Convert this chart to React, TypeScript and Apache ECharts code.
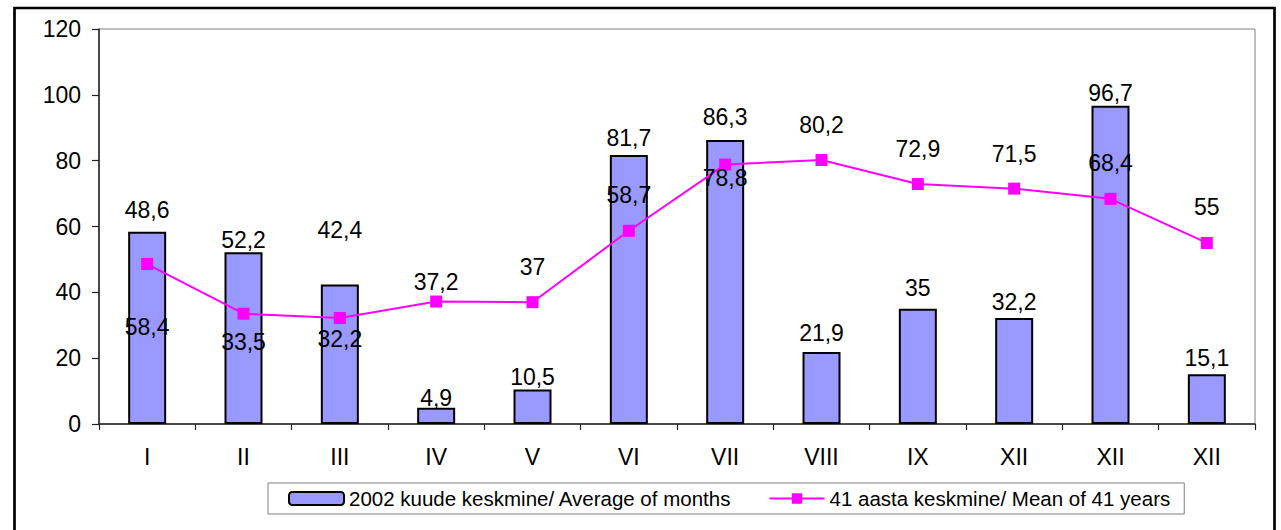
import React, { useEffect, useRef } from "react";
import * as echarts from "echarts";

const categories = ["I", "II", "III", "IV", "V", "VI", "VII", "VIII", "IX", "XII", "XII", "XII"];
const monthAverage2002 = [58.4, 52.2, 42.4, 4.9, 10.5, 81.7, 86.3, 21.9, 35, 32.2, 96.7, 15.1];
const mean41Years = [48.6, 33.5, 32.2, 37.2, 37, 58.7, 78.8, 80.2, 72.9, 71.5, 68.4, 55];
// texts as printed next to each mark in the original
const barLabelTexts = ["48,6", "52,2", "42,4", "4,9", "10,5", "81,7", "86,3", "21,9", "35", "32,2", "96,7", "15,1"];
const lineLabelTexts = ["58,4", "33,5", "32,2", "37,2", "37", "58,7", "78,8", "80,2", "72,9", "71,5", "68,4", "55"];
const seriesNames = ["2002 kuude keskmine/ Average of months", "41 aasta keskmine/ Mean of 41 years"];

// label placement (pixels, centre of label relative to mark)
const barLabelDy = [-22, -12, -54, -10, -12, -17, -23, -19, -21, -16, -13, -16];
const lineLabelDy = [63, 28, 21, -20, -35, -36, 13, -35, -35, -35, -36, -36];

const FONT = "'Liberation Sans', Arial, sans-serif";
const FS = 23;

export default function App() {
  const ref = useRef<HTMLDivElement>(null);
  useEffect(() => {
    if (!ref.current) return;
    const chart = echarts.init(ref.current, undefined, { renderer: "svg" });
    const labelBase = {
      show: true,
      color: "#000",
      fontSize: FS,
      fontFamily: FONT,
      align: "center",
      verticalAlign: "middle",
    };
    chart.setOption({
      animation: false,
      backgroundColor: "#fff",
      textStyle: { fontFamily: FONT },
      grid: {
        left: 99,
        right: 26,
        top: 29,
        bottom: 106,
        show: true,
        borderColor: "#808080",
        borderWidth: 1,
        backgroundColor: "#fff",
      },
      graphic: [
        {
          type: "rect",
          shape: { x: 14.5, y: 8, width: 1260, height: 560 },
          style: { fill: "none", stroke: "#000", lineWidth: 2.7 },
          silent: true,
        },
      ],
      legend: {
        left: 268,
        top: 483,
        orient: "horizontal",
        itemWidth: 55,
        itemHeight: 13,
        itemGap: 37,
        padding: [5, 14, 5, 20],
        borderColor: "#808080",
        borderWidth: 1,
        textStyle: { color: "#000", fontSize: 20.5, fontFamily: FONT },
        data: seriesNames,
      },
      xAxis: {
        type: "category",
        data: categories,
        axisLine: { show: true, lineStyle: { color: "#222", width: 1.5 } },
        axisTick: { show: true, length: 6, lineStyle: { color: "#222", width: 1.2 } },
        axisLabel: { color: "#000", fontSize: FS, fontFamily: FONT, margin: 21 },
      },
      yAxis: {
        type: "value",
        min: 0,
        max: 120,
        interval: 20,
        splitLine: { show: false },
        axisLine: { show: true, lineStyle: { color: "#222", width: 1.5 } },
        axisTick: { show: true, length: 7, lineStyle: { color: "#222", width: 1.2 } },
        axisLabel: { color: "#000", fontSize: FS, fontFamily: FONT, margin: 18 },
      },
      series: [
        {
          name: seriesNames[0],
          type: "bar",
          barWidth: 38,
          itemStyle: { color: "#9999FF", borderColor: "#000", borderWidth: 2 },
          data: monthAverage2002.map((v, i) => ({
            value: v,
            label: { ...labelBase, position: ["50%", barLabelDy[i]], formatter: () => barLabelTexts[i] },
          })),
          z: 2,
        },
        {
          name: seriesNames[1],
          type: "line",
          symbol: "rect",
          symbolSize: 12,
          lineStyle: { color: "#FF00FF", width: 2 },
          itemStyle: { color: "#FF00FF" },
          data: mean41Years.map((v, i) => ({
            value: v,
            label: { ...labelBase, position: ["50%", 6 + lineLabelDy[i]], formatter: () => lineLabelTexts[i] },
          })),
          z: 3,
        },
      ],
    });
    return () => chart.dispose();
  }, []);
  return (
    <div
      ref={ref}
      style={{ position: "fixed", left: 0, top: 0, width: 1281, height: 530, background: "#fff" }}
    />
  );
}
